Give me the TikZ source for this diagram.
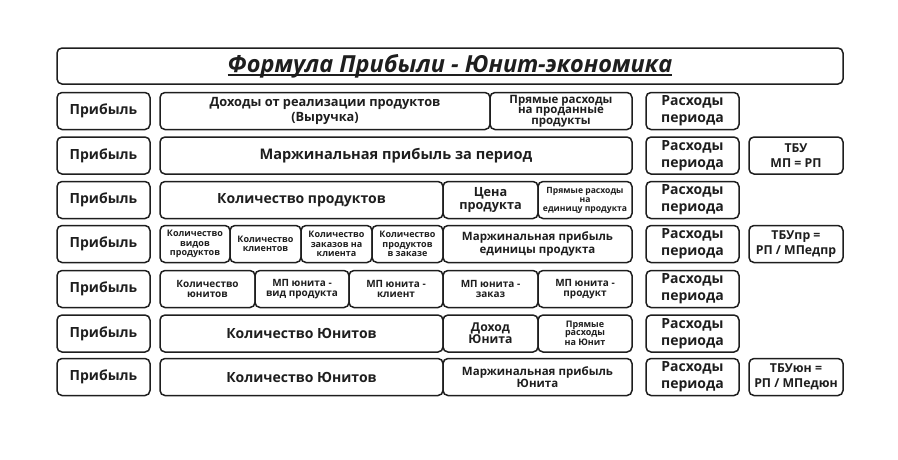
\documentclass[tikz,border=0pt]{standalone}
\usepackage{fontspec}
\setmainfont{Open Sans}
\usepackage{tikz}
\usetikzlibrary{positioning}
\definecolor{frameink}{RGB}{30, 30, 30}
\newcommand{\titleul}[1]{\setbox0\hbox{#1}\rlap{\rule[-3.5pt]{\wd0}{1.6pt}}\box0}
\tikzstyle{cell} = [
    rectangle,
    rounded corners=5pt,
    draw=frameink,
    line width=1.5pt,
    fill=white,
    text=frameink,
    align=center,
    inner sep=0pt,
    minimum height=37pt
]
\tikzstyle{fbig} = [font=\fontsize{14}{17}\selectfont\bfseries]
\tikzstyle{fmid} = [font=\fontsize{11.5}{12.5}\selectfont\bfseries]
\tikzstyle{fsmall} = [font=\fontsize{10}{10.5}\selectfont\bfseries]
\tikzstyle{ftiny} = [font=\fontsize{9}{9.2}\selectfont\bfseries]
\tikzstyle{head} = [cell, fbig, minimum width=93pt]
\tikzstyle{cost} = [cell, fbig, minimum width=93pt]
\tikzstyle{tbu} = [cell, font=\fontsize{12.3}{15}\selectfont\bfseries, minimum width=94pt]

\begin{document}
\begin{tikzpicture}[x=1pt, y=-1pt]
    \useasboundingbox (0,0) rectangle (898,459);

    % Title
    \node[cell, minimum width=786pt, minimum height=36pt, font=\fontsize{23.5}{23.5}\selectfont\bfseries\itshape] (title) at (450,66) {\titleul{Формула Прибыли - Юнит-экономика}};

    % Row 1
    \node[head] (p1) at (103.5,111) {Прибыль};
    \node[cell, font=\fontsize{12.8}{15}\selectfont\bfseries, minimum width=330pt] (rev) at (325,111) {Доходы от реализации продуктов\\(Выручка)};
    \node[cell, font=\fontsize{11.5}{10.4}\selectfont\bfseries, minimum width=142pt] (dirsold) at (561,111) {Прямые расходы\\на проданные\\продукты};
    \node[cost] (r1) at (692.5,111) {Расходы\\периода};

    % Row 2
    \node[head] (p2) at (103.5,155.5) {Прибыль};
    \node[cell, font=\fontsize{14.6}{17}\selectfont\bfseries, minimum width=472pt] (mpper) at (396,155.5) {Маржинальная прибыль за период};
    \node[cost] (r2) at (692.5,155.5) {Расходы\\периода};
    \node[tbu] (t2) at (796,155.5) {ТБУ\\МП = РП};

    % Row 3
    \node[head] (p3) at (103.5,200) {Прибыль};
    \node[cell, fbig, minimum width=283pt] (qprod) at (301.5,200) {Количество продуктов};
    \node[cell, font=\fontsize{12.7}{12.5}\selectfont\bfseries, minimum width=95pt] (price) at (490.5,200) {Цена\\продукта};
    \node[cell, font=\fontsize{8.6}{9}\selectfont\bfseries, minimum width=94pt] (dirunit) at (585,200) {Прямые расходы\\на\\единицу продукта};
    \node[cost] (r3) at (692.5,200) {Расходы\\периода};

    % Row 4
    \node[head] (p4) at (103.5,244) {Прибыль};
    \node[cell, ftiny, minimum width=70pt] (qkind) at (195,244) {Количество\\видов\\продуктов};
    \node[cell, ftiny, minimum width=71pt] (qcli) at (265.5,244) {Количество\\клиентов};
    \node[cell, ftiny, minimum width=71pt] (qord) at (336.5,244) {Количество\\заказов на\\клиента};
    \node[cell, ftiny, minimum width=71pt] (qinord) at (407.5,244) {Количество\\продуктов\\в заказе};
    \node[cell, fmid, minimum width=189pt] (mpprod) at (537.5,244) {Маржинальная прибыль\\единицы продукта};
    \node[cost] (r4) at (692.5,244) {Расходы\\периода};
    \node[tbu] (t4) at (796,244) {ТБУпр =\\РП / МПедпр};

    % Row 5
    \node[head] (p5) at (103.5,289) {Прибыль};
    \node[cell, fsmall, minimum width=95pt] (qunits) at (207.5,289) {Количество\\юнитов};
    \node[cell, fsmall, minimum width=94pt] (mpkind) at (302,289) {МП юнита -\\вид продукта};
    \node[cell, fsmall, minimum width=94pt] (mpcli) at (396,289) {МП юнита -\\клиент};
    \node[cell, fsmall, minimum width=95pt] (mpord) at (490.5,289) {МП юнита -\\заказ};
    \node[cell, fsmall, minimum width=94pt] (mpitem) at (585,289) {МП юнита -\\продукт};
    \node[cost] (r5) at (692.5,289) {Расходы\\периода};

    % Row 6
    \node[head] (p6) at (103.5,333.5) {Прибыль};
    \node[cell, fbig, minimum width=283pt] (qun6) at (301.5,333.5) {Количество Юнитов};
    \node[cell, font=\fontsize{12.2}{12}\selectfont\bfseries, minimum width=95pt] (incunit) at (490.5,333.5) {Доход\\Юнита};
    \node[cell, font=\fontsize{9}{8}\selectfont\bfseries, minimum width=94pt] (dirun) at (585,333.5) {Прямые\\расходы\\на Юнит};
    \node[cost] (r6) at (692.5,333.5) {Расходы\\периода};

    % Row 7
    \node[head] (p7) at (103.5,377) {Прибыль};
    \node[cell, fbig, minimum width=283pt] (qun7) at (301.5,377) {Количество Юнитов};
    \node[cell, fmid, minimum width=189pt] (mpun) at (537.5,377) {Маржинальная прибыль\\Юнита};
    \node[cost] (r7) at (692.5,377) {Расходы\\периода};
    \node[tbu] (t7) at (796,377) {ТБУюн =\\РП / МПедюн};

\end{tikzpicture}
\end{document}
